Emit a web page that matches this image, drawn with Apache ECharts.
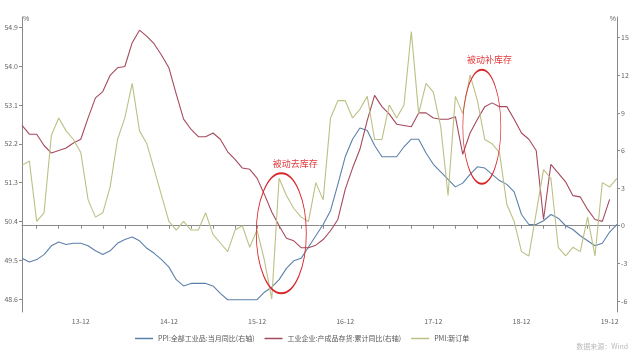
<!DOCTYPE html>
<html><head><meta charset="utf-8">
<script src="https://cdn.jsdelivr.net/npm/echarts@6/dist/echarts.min.js"></script>
<style>html,body{margin:0;padding:0;background:#fff}#c{width:640px;height:353px}</style>
</head><body><div id="c"></div>
<script>
// months 2013-04 .. 2020-01
const categories = [];
for (let y = 2013, m = 4; !(y === 2020 && m === 2); ) {
  categories.push(String(y % 100) + '-' + String(m).padStart(2, '0'));
  m++; if (m > 12) { m = 1; y++; }
}
const ppi = [-2.6,-2.9,-2.7,-2.3,-1.6,-1.3,-1.5,-1.4,-1.4,
  -1.6,-2.0,-2.3,-2.0,-1.4,-1.1,-0.9,-1.2,-1.8,-2.2,-2.7,-3.3,
  -4.3,-4.8,-4.6,-4.6,-4.6,-4.8,-5.4,-5.9,-5.9,-5.9,-5.9,-5.9,
  -5.3,-4.9,-4.3,-3.4,-2.8,-2.6,-1.7,-0.8,0.1,1.2,3.3,5.5,
  6.9,7.8,7.6,6.4,5.5,5.5,5.5,6.3,6.9,6.9,5.8,4.9,
  4.3,3.7,3.1,3.4,4.1,4.7,4.6,4.1,3.6,3.3,2.7,0.9,
  0.1,0.1,0.4,0.9,0.6,0.0,-0.3,-0.8,-1.2,-1.6,-1.4,-0.5,
  0.1];
const inventory = [8.0,7.3,7.3,6.4,5.8,6.0,6.2,6.6,6.9,
  8.6,10.2,10.7,12.0,12.6,12.7,14.6,15.6,15.1,14.5,13.6,12.6,
  10.5,8.5,7.7,7.1,7.1,7.4,6.9,5.9,5.3,4.6,4.5,3.8,
  2.5,1.1,0.0,-1.0,-1.2,-1.75,-1.75,-1.55,-1.1,-0.4,0.5,2.9,
  4.6,6.1,8.4,10.4,9.5,8.9,8.1,8.0,7.9,9.0,9.0,8.6,
  8.5,8.5,8.7,5.7,7.4,8.5,9.5,9.8,9.5,9.5,8.5,7.4,
  6.9,6.0,0.5,4.9,4.2,3.5,2.4,2.3,1.3,0.5,0.35,2.1,
  null];
const pmiNewOrders = [51.7,51.8,50.4,50.6,52.4,52.8,52.5,52.3,52.0,
  50.9,50.5,50.6,51.2,52.3,52.8,53.6,52.5,52.2,51.6,51.0,50.4,
  50.2,50.4,50.2,50.2,50.6,50.1,49.9,49.7,50.2,50.3,49.8,50.2,
  49.5,48.6,51.4,51.0,50.7,50.5,50.4,51.3,50.9,52.8,53.2,53.2,
  52.8,53.0,53.3,52.3,52.3,53.1,52.8,53.1,54.8,52.9,53.6,53.4,
  52.6,51.0,53.3,52.9,53.8,53.2,52.3,52.2,52.0,50.8,50.4,49.7,
  49.6,50.6,51.6,51.4,49.8,49.6,49.8,49.7,50.5,49.6,51.3,51.2,
  51.4];
const leftTicks = [48.6,49.5,50.4,51.3,52.2,53.1,54.0,54.9];
const rightTicks = [-6,-3,0,3,6,9,12,15];
const seriesNames = ['PPI:全部工业品:当月同比(右轴)','工业企业:产成品存货:累计同比(右轴)','PMI:新订单'];
// annotation anchors: [category, fraction toward next category, right-axis value]
const annotations = [
  {text:'被动去库存', ellipse:['16-03',0.3,-0.6], label:['16-05',0.2,4.95], rx:25, ry:60},
  {text:'被动补库存', ellipse:['18-06',0.6,7.9], label:['18-07',0.65,13.25], rx:19, ry:57}
];

const FONT = '"Noto Sans CJK SC","Noto Sans",sans-serif';
const chart = echarts.init(document.getElementById('c'), null, {renderer:'canvas'});
const axisCommon = {
  axisLine:{show:true, lineStyle:{color:'#8a8a8a', width:1}},
  splitLine:{show:false}
};
chart.setOption({
  animation:false,
  backgroundColor:'#fff',
  grid:{left:22, right:23, top:17, bottom:41, containLabel:false},
  legend:{
    data:seriesNames, left:130, top:330, icon:'rect', itemWidth:18, itemHeight:1.5, itemGap:10,
    textStyle:{fontSize:7, color:'#555', fontFamily:FONT}
  },
  xAxis:{
    type:'category', data:categories, boundaryGap:false,
    axisLine:{lineStyle:{color:'#8a8a8a'}},
    axisTick:{show:true, length:3, lineStyle:{color:'#8a8a8a'},
      interval:(i, v) => parseInt(v.slice(3), 10) % 3 === 0},
    axisLabel:{fontSize:7, color:'#666', fontFamily:FONT, margin:6,
      interval:(i, v) => v.slice(3) === '12'},
    splitLine:{show:false}
  },
  yAxis:[
    Object.assign({}, axisCommon, {
      type:'value', position:'left', min:48.30, max:55.14,
      name:'%', nameLocation:'end', nameGap:-2,
      nameTextStyle:{fontSize:7, color:'#666', align:'left', verticalAlign:'middle', padding:[0,0,0,1]},
      axisTick:{show:true, length:3, lineStyle:{color:'#8a8a8a'}, customValues:leftTicks},
      axisLabel:{fontSize:7, color:'#666', fontFamily:FONT, margin:4, customValues:leftTicks,
        formatter:v => v.toFixed(1)}
    }),
    Object.assign({}, axisCommon, {
      type:'value', position:'right', min:-6.88, max:16.65,
      name:'%', nameLocation:'end', nameGap:-2,
      nameTextStyle:{fontSize:7, color:'#666', align:'right', verticalAlign:'middle', padding:[0,1,0,0]},
      axisTick:{show:true, length:3, lineStyle:{color:'#8a8a8a'}, customValues:rightTicks},
      axisLabel:{fontSize:7, color:'#666', fontFamily:FONT, margin:4, customValues:rightTicks}
    })
  ],
  series:[
    {name:seriesNames[0], type:'line', yAxisIndex:1, data:ppi, symbol:'none',
     lineStyle:{width:1.1, color:'#5d80aa'}, itemStyle:{color:'#5d80aa'}},
    {name:seriesNames[1], type:'line', yAxisIndex:1, data:inventory, symbol:'none',
     lineStyle:{width:1.1, color:'#a54a5c'}, itemStyle:{color:'#a54a5c'}},
    {name:seriesNames[2], type:'line', yAxisIndex:0, data:pmiNewOrders, symbol:'none',
     lineStyle:{width:1.1, color:'#bcc084'}, itemStyle:{color:'#bcc084'}}
  ]
});
function anchorPx(a) {
  const i = categories.indexOf(a[0]);
  const p0 = chart.convertToPixel({xAxisIndex:0, yAxisIndex:1}, [i, a[2]]);
  const p1 = chart.convertToPixel({xAxisIndex:0, yAxisIndex:1}, [i + 1, a[2]]);
  return [p0[0] + (p1[0] - p0[0]) * a[1], p0[1]];
}
const graphics = [];
annotations.forEach(a => {
  const c = anchorPx(a.ellipse);
  const l = anchorPx(a.label);
  graphics.push({type:'circle', x:c[0], y:c[1], scaleX:a.rx / a.ry, shape:{cx:0, cy:0, r:a.ry},
    style:{fill:null, stroke:'#d8262a', lineWidth:2}, z:100, silent:true});
  graphics.push({type:'text', x:l[0], y:l[1], z:100,
    style:{text:a.text, fill:'#e0393b', fontSize:9, fontFamily:FONT, align:'center', verticalAlign:'middle'}});
});
graphics.push({type:'text', right:12, bottom:3,
  style:{text:'数据来源：Wind', fill:'#bbb', fontSize:7, fontFamily:FONT}});
chart.setOption({graphic:graphics});
</script></body></html>
